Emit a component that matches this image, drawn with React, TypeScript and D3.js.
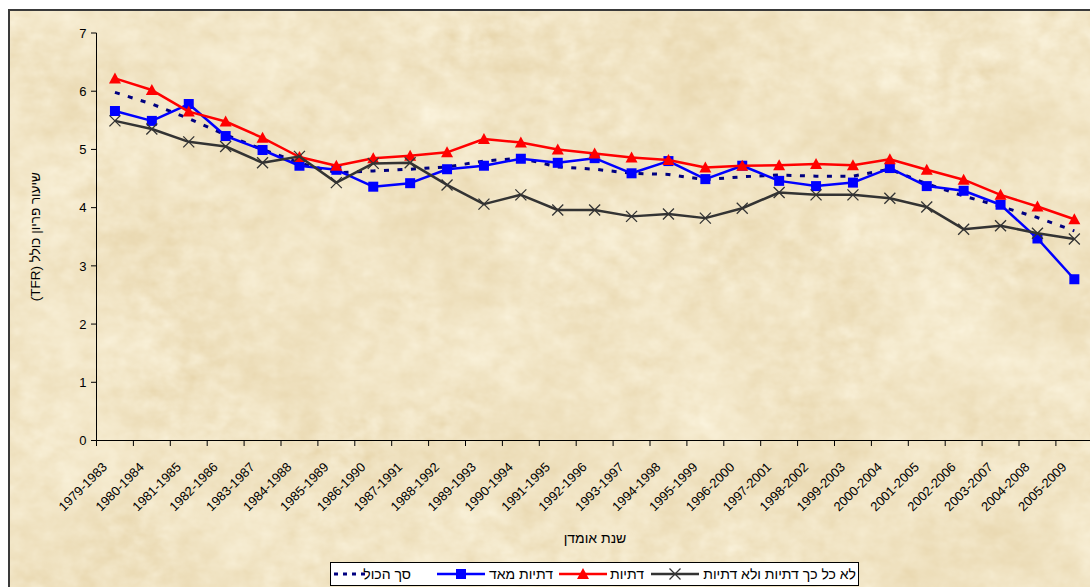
import React from "react";
import * as d3 from "d3";

const categories = [
  "1979-1983", "1980-1984", "1981-1985", "1982-1986", "1983-1987", "1984-1988",
  "1985-1989", "1986-1990", "1987-1991", "1988-1992", "1989-1993", "1990-1994",
  "1991-1995", "1992-1996", "1993-1997", "1994-1998", "1995-1999", "1996-2000",
  "1997-2001", "1998-2002", "1999-2003", "2000-2004", "2001-2005", "2002-2006",
  "2003-2007", "2004-2008", "2005-2009",
];

const totalValues = [5.98, 5.78, 5.53, 5.25, 5.0, 4.77, 4.6, 4.63, 4.66, 4.7, 4.8, 4.85, 4.7, 4.66, 4.59, 4.57, 4.48, 4.53, 4.56, 4.54, 4.54, 4.66, 4.41, 4.2, 4.02, 3.83, 3.6];
const veryReligious = [5.66, 5.49, 5.78, 5.23, 4.99, 4.72, 4.65, 4.36, 4.42, 4.66, 4.72, 4.84, 4.77, 4.85, 4.59, 4.8, 4.49, 4.72, 4.46, 4.37, 4.43, 4.68, 4.37, 4.29, 4.05, 3.47, 2.77];
const religious = [6.22, 6.02, 5.65, 5.48, 5.2, 4.87, 4.72, 4.85, 4.89, 4.95, 5.18, 5.12, 5.0, 4.93, 4.86, 4.82, 4.69, 4.72, 4.73, 4.75, 4.73, 4.83, 4.65, 4.48, 4.22, 4.02, 3.8];
const notReligious = [5.49, 5.35, 5.13, 5.05, 4.77, 4.88, 4.43, 4.76, 4.77, 4.39, 4.06, 4.22, 3.96, 3.96, 3.85, 3.89, 3.82, 3.99, 4.26, 4.22, 4.22, 4.16, 4.01, 3.63, 3.69, 3.56, 3.46];

const yTicks = [0, 1, 2, 3, 4, 5, 6, 7];
const seriesNames = ["סך הכול", "דתיות מאד", "דתיות", "לא כל כך דתיות ולא דתיות"];
const yTitle = "שיעור פריון כולל (TFR)";
const xTitle = "שנת אומדן";

const FONT = "'Liberation Sans', Arial, sans-serif";

type MarkerKind = "none" | "square" | "triangle" | "x";

function Marker({ kind, x, y, color }: { kind: MarkerKind; x: number; y: number; color: string }) {
  if (kind === "square") {
    return <rect x={x - 5} y={y - 5} width={10} height={10} fill={color} />;
  }
  if (kind === "triangle") {
    return <path d={`M${x},${y - 6}L${x + 6},${y + 5}L${x - 6},${y + 5}Z`} fill={color} />;
  }
  if (kind === "x") {
    return (
      <path
        d={`M${x - 5.5},${y - 5.5}L${x + 5.5},${y + 5.5}M${x - 5.5},${y + 5.5}L${x + 5.5},${y - 5.5}`}
        stroke={color}
        strokeWidth={1.3}
        fill="none"
      />
    );
  }
  return null;
}

export default function App() {
  const W = 1090;
  const H = 587;
  const plotLeft = 96.5;
  const band = 36.9;
  const x = d3
    .scaleBand<string>()
    .domain(categories)
    .range([plotLeft, plotLeft + band * categories.length])
    .paddingInner(0)
    .paddingOuter(0);
  const y = d3.scaleLinear().domain([0, 7]).range([440.5, 33]);
  const cx = (c: string) => (x(c) as number) + x.bandwidth() / 2;

  const line = d3
    .line<number>()
    .x((_, i) => cx(categories[i]))
    .y((d) => y(d));

  const series = [
    { name: seriesNames[0], values: totalValues, color: "#000080", width: 3, dash: "5,8.5", marker: "none" as MarkerKind },
    { name: seriesNames[1], values: veryReligious, color: "#0000FF", width: 2.5, dash: undefined, marker: "square" as MarkerKind },
    { name: seriesNames[2], values: religious, color: "#FF0000", width: 2.5, dash: undefined, marker: "triangle" as MarkerKind },
    { name: seriesNames[3], values: notReligious, color: "#333333", width: 2.5, dash: undefined, marker: "x" as MarkerKind },
  ];

  const tickEdges = categories.map((c) => x(c) as number).concat([plotLeft + band * categories.length]);

  // legend layout (right-to-left)
  const legend = [
    { s: series[3], textEnd: 856, sx0: 651, sx1: 699 },
    { s: series[2], textEnd: 644, sx0: 559, sx1: 607 },
    { s: series[1], textEnd: 553, sx0: 437, sx1: 485 },
    { s: series[0], textEnd: 411, sx0: 334, sx1: 366 },
  ];
  const legY = 574;

  return (
    <svg
      width={W}
      height={H}
      style={{ position: "absolute", left: 0, top: 0, display: "block" }}
      fontFamily={FONT}
    >
      <defs>
        <filter id="paper" x="0" y="0" width="1" height="1" filterUnits="objectBoundingBox" colorInterpolationFilters="sRGB">
          <feTurbulence type="fractalNoise" baseFrequency="0.008 0.01" numOctaves={3} seed={7} result="n1" />
          <feTurbulence type="fractalNoise" baseFrequency="0.05 0.065" numOctaves={3} seed={3} result="n2" />
          <feComposite in="n1" in2="n2" operator="arithmetic" k1={0} k2={0.55} k3={0.45} k4={0} result="n" />
          <feColorMatrix
            in="n"
            type="matrix"
            values="0.11 0 0 0 0.89  0.17 0 0 0 0.81  0.28 0 0 0 0.63  0 0 0 0 1"
          />
        </filter>
      </defs>
      <rect x={0} y={0} width={W} height={H} fill="#ffffff" />
      <rect x={9} y={10} width={W} height={H} fill="#efdfbb" filter="url(#paper)" />
      <path d={`M9,${H + 5}V10H${W + 5}`} stroke="#3a3a3a" strokeWidth={2} fill="none" />

      {/* axes */}
      <line x1={plotLeft} x2={plotLeft} y1={y(7)} y2={y(0)} stroke="#000" strokeWidth={1} />
      <line x1={plotLeft} x2={tickEdges[tickEdges.length - 1]} y1={y(0)} y2={y(0)} stroke="#000" strokeWidth={1} />
      {yTicks.map((t) => (
        <g key={t}>
          <line x1={plotLeft - 5.5} x2={plotLeft} y1={y(t)} y2={y(t)} stroke="#000" strokeWidth={1} />
          <text x={plotLeft - 10} y={y(t)} dy="0.36em" textAnchor="end" fontSize={13} fill="#000">
            {t}
          </text>
        </g>
      ))}
      {tickEdges.map((e, i) => (
        <line key={i} x1={e} x2={e} y1={y(0)} y2={y(0) + 5.5} stroke="#000" strokeWidth={1} />
      ))}
      {categories.map((c) => (
        <text
          key={c}
          transform={`translate(${cx(c) - 7},${468}) rotate(-45)`}
          textAnchor="end"
          fontSize={13}
          fill="#000"
        >
          {c}
        </text>
      ))}

      {/* titles */}
      <text
        transform={`translate(35.5,${(y(7) + y(0)) / 2}) rotate(-90)`}
        textAnchor="middle"
        dy="0.35em"
        direction="rtl"
        fontSize={13.5}
        fill="#000"
      >
        {yTitle}
      </text>
      <text x={595} y={543} textAnchor="middle" direction="rtl" fontSize={14} fill="#000">
        {xTitle}
      </text>

      {/* series */}
      {series.map((s) => (
        <g key={s.name}>
          <path
            d={line(s.values) || ""}
            fill="none"
            stroke={s.color}
            strokeWidth={s.width}
            strokeDasharray={s.dash}
            strokeLinejoin="round"
          />
          {s.values.map((v, i) => (
            <Marker key={i} kind={s.marker} x={cx(categories[i])} y={y(v)} color={s.color} />
          ))}
        </g>
      ))}

      {/* legend */}
      <rect x={330.5} y={562.5} width={528} height={23} fill="#ffffff" stroke="#000" strokeWidth={1} />
      {legend.map(({ s, textEnd, sx0, sx1 }) => (
        <g key={s.name}>
          <line
            x1={sx0}
            x2={sx1}
            y1={legY}
            y2={legY}
            stroke={s.color}
            strokeWidth={s.marker === "none" ? 3 : 2.5}
            strokeDasharray={s.marker === "none" ? "4,5" : undefined}
          />
          <Marker kind={s.marker} x={(sx0 + sx1) / 2} y={legY} color={s.color} />
          <text x={textEnd} y={legY} dy="0.36em" textAnchor="end" fontSize={14} fill="#000">
            {s.name}
          </text>
        </g>
      ))}
    </svg>
  );
}
